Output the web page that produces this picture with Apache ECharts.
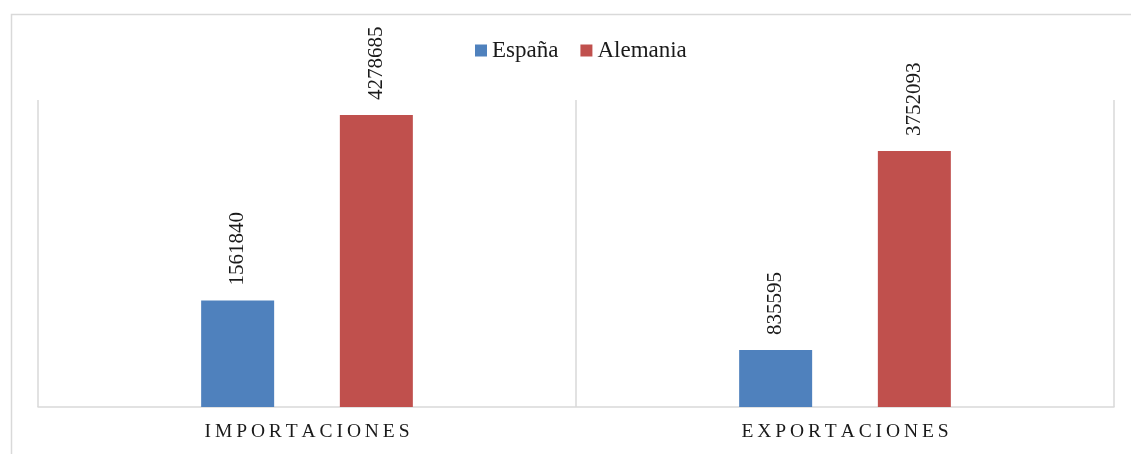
<!DOCTYPE html>
<html>
<head>
<meta charset="utf-8">
<script src="https://cdn.jsdelivr.net/npm/echarts@6/dist/echarts.min.js"></script>
<style>
html,body{margin:0;padding:0;background:#fff;}
#chart{width:1131px;height:454px;}
</style>
</head>
<body>
<div id="chart"></div>
<script>
const categories = ['IMPORTACIONES', 'EXPORTACIONES'];
const seriesNames = ['España', 'Alemania'];
const espana = [1561840, 835595];
const alemania = [4278685, 3752093];

const FONT = '"Liberation Serif", "Times New Roman", serif';
const chart = echarts.init(document.getElementById('chart'), null, {renderer: 'canvas'});

const labelCfg = {
  show: true,
  position: 'top',
  rotate: 90,
  align: 'left',
  verticalAlign: 'middle',
  distance: 15,
  fontFamily: FONT,
  fontSize: 21,
  color: '#1a1a1a'
};

chart.setOption({
  animation: false,
  backgroundColor: '#fff',
  graphic: [{
    type: 'rect',
    left: 9, top: 12,
    shape: {width: 1140, height: 460},
    style: {fill: 'none', stroke: '#d9d9d9', lineWidth: 1.5},
    silent: true
  }],
  legend: {
    data: seriesNames,
    left: 470,
    top: 34,
    icon: 'rect',
    itemWidth: 12,
    itemHeight: 12,
    itemGap: 22,
    textStyle: {fontFamily: FONT, fontSize: 23, color: '#1a1a1a'}
  },
  grid: {left: 38, right: 17, top: 100, bottom: 47, containLabel: false},
  xAxis: {
    type: 'category',
    data: categories,
    boundaryGap: true,
    axisLine: {show: true, lineStyle: {color: '#d9d9d9', width: 1.5}},
    axisTick: {show: false},
    splitLine: {show: true, interval: 0, lineStyle: {color: '#d9d9d9', width: 1.5}},
    axisLabel: {
      margin: 15,
      fontFamily: FONT,
      fontSize: 19.5,
      color: '#1a1a1a',
      formatter: v => v.split('').join('\u2009')
    }
  },
  yAxis: {
    type: 'value',
    min: 0,
    max: 4500000,
    show: false,
    splitLine: {show: false}
  },
  series: [
    {
      name: seriesNames[0],
      type: 'bar',
      data: espana,
      barWidth: 73,
      barGap: '90%',
      itemStyle: {color: '#4f81bd'},
      label: labelCfg
    },
    {
      name: seriesNames[1],
      type: 'bar',
      data: alemania,
      barWidth: 73,
      barGap: '90%',
      itemStyle: {color: '#c0504d'},
      label: labelCfg
    }
  ]
});
</script>
</body>
</html>
